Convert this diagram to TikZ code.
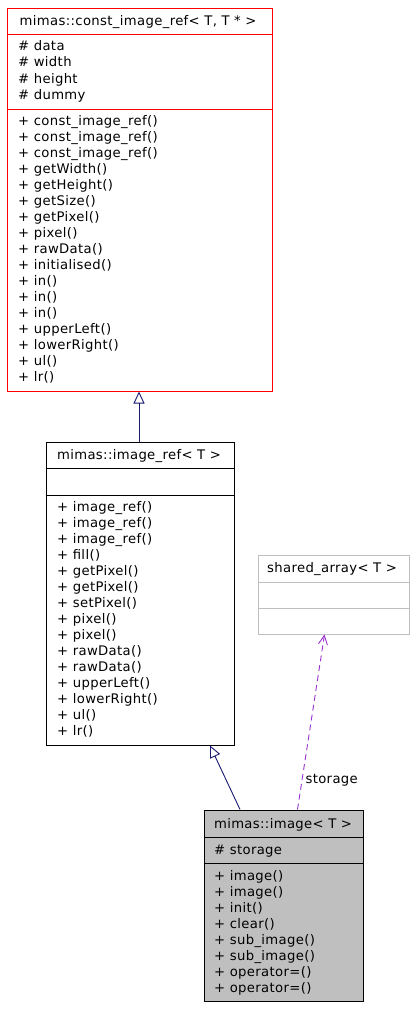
\documentclass[tikz,border=0pt]{standalone}
\usepackage{fontspec}
\setmainfont[LetterSpace=2.7]{DejaVu Sans}
\usetikzlibrary{arrows.meta}
\definecolor{navyc}{HTML}{191970}
\definecolor{purp}{HTML}{9A32CD}
\definecolor{grayfill}{HTML}{BFBFBF}
\definecolor{lightb}{HTML}{BFBFBF}
\begin{document}
\begin{tikzpicture}[x=1pt,y=-1pt,
  umlbox/.style={draw, line width=1pt, inner sep=0, rectangle},
  txt/.style={anchor=west, inner sep=0, text height=10pt, text depth=3pt, font=\fontsize{13.2}{16}\selectfont},
  ttl/.style={anchor=center, inner sep=0, text height=10pt, text depth=3pt, font=\fontsize{13.2}{16}\selectfont},
  inh/.style={draw=navyc, line width=0.9pt, -{Triangle[open, length=12pt, width=11pt]}},
  uses/.style={draw=purp, line width=0.9pt, dash pattern=on 6pt off 4pt, -{Straight Barb[length=9pt, width=9pt]}}]
\useasboundingbox (0,0) rectangle (416,1010);
\fill[white] (0,0) rectangle (416,1010);

% top box
\node[umlbox, draw=red, minimum width=265pt, minimum height=383pt] (cir) at (139.5,199.5) {};
\draw[red, line width=1pt] (cir.west |- 0,34) -- (cir.east |- 0,34);
\draw[red, line width=1pt] (cir.west |- 0,109) -- (cir.east |- 0,109);
\node[ttl] (cirt) at (138,22) {mimas::const\_image\_ref< T, T * >};
\foreach \t [count=\i] in {\# data,\# width,\# height,\# dummy}
  \node[txt] (cira\i) at (18,{47+16.33*(\i-1)}) {\t};
\foreach \t [count=\i] in {+ const\_image\_ref(),+ const\_image\_ref(),+ const\_image\_ref(),+ getWidth(),+ getHeight(),+ getSize(),+ getPixel(),+ pixel(),+ rawData(),+ initialised(),+ in(),+ in(),+ in(),+ upperLeft(),+ lowerRight(),+ ul(),+ lr()}
  \node[txt] (cirm\i) at (18,{122+16*(\i-1)}) {\t};

% middle box
\node[umlbox, minimum width=188pt, minimum height=303pt] (ir) at (140,593.5) {};
\draw[line width=1pt] (ir.west |- 0,468) -- (ir.east |- 0,468);
\draw[line width=1pt] (ir.west |- 0,495) -- (ir.east |- 0,495);
\node[ttl] (irt) at (139,456) {mimas::image\_ref< T >};
\foreach \t [count=\i] in {+ image\_ref(),+ image\_ref(),+ image\_ref(),+ fill(),+ getPixel(),+ getPixel(),+ setPixel(),+ pixel(),+ pixel(),+ rawData(),+ rawData(),+ upperLeft(),+ lowerRight(),+ ul(),+ lr()}
  \node[txt] (irm\i) at (57,{508+16*(\i-1)}) {\t};

% shared array box
\node[umlbox, draw=lightb, minimum width=151pt, minimum height=79pt] (sa) at (333.5,594.5) {};
\draw[lightb, line width=1pt] (sa.west |- 0,582) -- (sa.east |- 0,582);
\draw[lightb, line width=1pt] (sa.west |- 0,608) -- (sa.east |- 0,608);
\node[ttl] (sat) at (332,569) {shared\_array< T >};

% bottom box
\node[umlbox, fill=grayfill, minimum width=159pt, minimum height=191pt] (img) at (283.5,905.5) {};
\draw[line width=1pt] (img.west |- 0,837) -- (img.east |- 0,837);
\draw[line width=1pt] (img.west |- 0,863) -- (img.east |- 0,863);
\node[ttl] (imgt) at (283,825) {mimas::image< T >};
\node[txt] (imga1) at (214,851) {\# storage};
\foreach \t [count=\i] in {+ image(),+ image(),+ init(),+ clear(),+ sub\_image(),+ sub\_image(),+ operator=(),+ operator=()}
  \node[txt] (imgm\i) at (214,{877+16*(\i-1)}) {\t};

% connectors
\draw[inh] ([xshift=-1pt]ir.north) -- ([xshift=-0.5pt]cir.south);
\draw[inh] ([xshift=-43.5pt]img.north) -- ([xshift=70pt]ir.south);
\draw[uses] ([xshift=14pt]img.north) -- node[pos=0.17, right=3pt, ttl, anchor=west] (stl) {storage} ([xshift=-9pt]sa.south);
\end{tikzpicture}
\end{document}
